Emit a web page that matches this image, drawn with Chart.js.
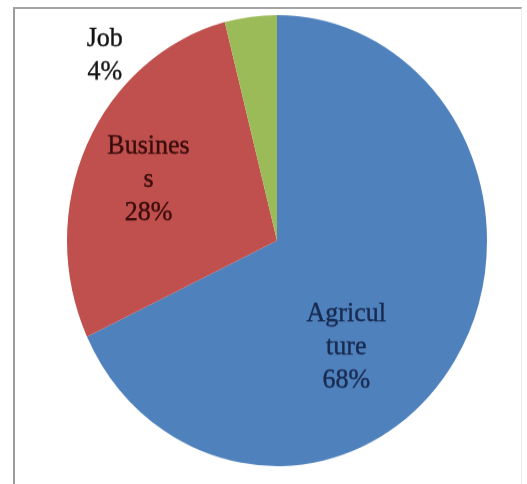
<!DOCTYPE html>
<html>
<head>
<meta charset="utf-8">
<script src="https://cdn.jsdelivr.net/npm/chart.js@4"></script>
<style>
    html, body {
        margin: 0;
        padding: 0;
        background: #fff;
    }
    body {
        width: 527px;
        height: 484px;
        position: relative;
        overflow: hidden;
    }
    .frame {
        position: absolute;
        left: 13px;
        top: 7px;
        width: 506px;
        height: 475px;
        border-left: 2px solid #9c9c9c;
        border-top: 2px solid #a4a4a4;
        border-right: 1px solid #ececec;
        border-bottom: 1px solid #dcdcdc;
    }
    .wrap {
        position: absolute;
        left: 0;
        top: 0;
        width: 527px;
        height: 451px;
        transform: scaleY(1.074);
        transform-origin: 0 0;
    }
</style>
</head>
<body>
<div class="frame"></div>
<div class="wrap"><canvas id="occupation-pie" width="527" height="451"></canvas></div>
<script>
const labels = ["Agriculture", "Business", "Job"];
const labelLines = [["Agricul", "ture"], ["Busines", "s"], ["Job"]];
const shares = [68, 28, 4];
const colors = ["#4f81bd", "#c0504d", "#9bbb59"];
const textColors = ["#182a50", "#3a0c0c", "#141414"];

// where each label sits: angle clockwise from 12 o'clock, distance in radii
const placement = [
    { angle: 145, dist: 0.575 },
    { angle: 294, dist: 0.67 },
    { angle: 315, dist: 1.16 },
];

const pieLabels = {
    id: "pieLabels",
    afterDatasetsDraw(chart) {
        const ctx = chart.ctx;
        const meta = chart.getDatasetMeta(0);
        const data = chart.data.datasets[0].data;
        ctx.save();
        ctx.font = "26px 'Liberation Serif', 'Times New Roman', serif";
        ctx.textAlign = "center";
        ctx.textBaseline = "middle";
        ctx.lineWidth = 0.4;
        meta.data.forEach((arc, i) => {
            const { x, y, outerRadius } = arc.getProps(["x", "y", "outerRadius"], true);
            const a = (placement[i].angle - 90) * Math.PI / 180;
            const r = outerRadius * placement[i].dist;
            const cx = x + Math.cos(a) * r;
            const cy = y + Math.sin(a) * r;
            const lines = [...labelLines[i], data[i] + "%"];
            const lh = 31;
            const top = cy - (lines.length - 1) * lh / 2;
            ctx.fillStyle = textColors[i];
            ctx.strokeStyle = textColors[i];
            lines.forEach((line, j) => {
                ctx.fillText(line, cx, top + j * lh);
                ctx.strokeText(line, cx, top + j * lh);
            });
        });
        ctx.restore();
    },
};

const ctx = document.getElementById("occupation-pie").getContext("2d");
const chart = new Chart(ctx, {
    type: "pie",
    data: {
        labels,
        datasets: [
            {
                data: shares,
                backgroundColor: colors,
                borderWidth: 0,
            },
        ],
    },
    options: {
        responsive: false,
        animation: false,
        layout: {
            padding: { left: 67, right: 40, top: 14, bottom: 17 },
        },
        plugins: {
            legend: { display: false },
            tooltip: { enabled: false },
        },
    },
    plugins: [pieLabels],
});
</script>
</body>
</html>
